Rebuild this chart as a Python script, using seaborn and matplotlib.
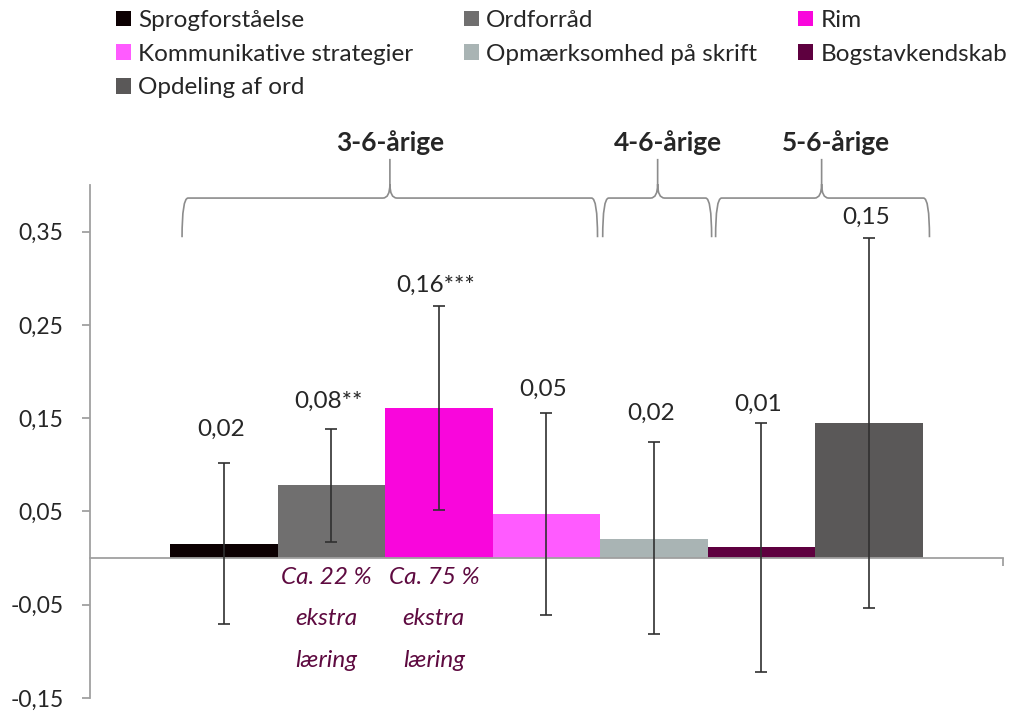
import matplotlib
matplotlib.use("Agg")
import matplotlib.pyplot as plt
import seaborn as sns
import pandas as pd
import numpy as np
from matplotlib.patches import Patch, PathPatch
from matplotlib.path import Path
from matplotlib.ticker import FuncFormatter

# ---------------- data ----------------
categories = ["Sprogforståelse", "Ordforråd", "Rim", "Kommunikative strategier",
              "Opmærksomhed på skrift", "Bogstavkendskab", "Opdeling af ord"]
values = [0.015, 0.078, 0.161, 0.047, 0.021, 0.012, 0.145]
ci_low = [-0.071, 0.017, 0.052, -0.061, -0.081, -0.122, -0.054]
ci_high = [0.102, 0.138, 0.270, 0.156, 0.124, 0.145, 0.343]
value_labels = ["0,02", "0,08**", "0,16***", "0,05", "0,02", "0,01", "0,15"]
group_names = ["3-6-årige", "4-6-årige", "5-6-årige"]
notes = {"Ordforråd": "Ca. 22 %\nekstra\nlæring", "Rim": "Ca. 75 %\nekstra\nlæring"}
yticks = [-0.15, -0.05, 0.05, 0.15, 0.25, 0.35]

# ---------------- style ----------------
colors = ["#0C0002", "#706F6F", "#F906DC", "#FF5BFF", "#A9B4B4", "#5E003F", "#5A5858"]
TEXT = "#262626"
AXIS = "#A0A0A0"
FS = 17.5
sns.set_theme(style="white")
plt.rcParams["font.family"] = ["Lato", "DejaVu Sans"]

fig = plt.figure(figsize=(10.24, 7.11), dpi=100)
ax = fig.add_axes([90 / 1024, 13 / 711, 912.7 / 1024, 513 / 711])

df = pd.DataFrame({"cat": categories, "val": values})
sns.barplot(data=df, x="cat", y="val", hue="cat", order=categories, hue_order=categories,
            palette=colors, width=1.0, errorbar=None, legend=False, ax=ax,
            saturation=1, linewidth=0)

xpos = np.arange(len(categories))
vals = np.array(values)
yerr = np.vstack([vals - np.array(ci_low), np.array(ci_high) - vals])
ax.errorbar(xpos, vals, yerr=yerr, fmt="none", ecolor="#303030", elinewidth=1.2,
            capsize=4.3, capthick=1.2, zorder=5)

ax.set_xlim(-1.244, 7.244)
ax.set_ylim(-0.15, 0.40)
ax.set_xlabel("")
ax.set_ylabel("")

# axes
for s in ["top", "right"]:
    ax.spines[s].set_visible(False)
ax.spines["left"].set_color(AXIS)
ax.spines["left"].set_linewidth(1.3)
ax.spines["left"].set_bounds(-0.15, 0.40)
ax.spines["bottom"].set_position(("data", 0))
ax.spines["bottom"].set_color(AXIS)
ax.spines["bottom"].set_linewidth(1.3)
ax.set_xticks([7.244])
ax.set_xticklabels([""])
ax.tick_params(axis="x", direction="out", length=6, width=1.3, color=AXIS, bottom=True)
ax.set_yticks(yticks)
ax.yaxis.set_major_formatter(FuncFormatter(lambda v, p: f"{v:.2f}".replace(".", ",")))
ax.tick_params(axis="y", direction="out", length=6, width=1.3, color=AXIS, left=True,
               labelsize=16.5, labelcolor=TEXT, pad=13)
ax.grid(False)

# value labels above error bars
label_pad_px = [34, 28, 21, 23, 29, 19, 21]
for x, top, lab, pad in zip(xpos, ci_high, value_labels, label_pad_px):
    ax.annotate(lab, (x, top), xytext=(-3, pad), textcoords="offset pixels",
                ha="center", va="center", fontsize=FS, color=TEXT, zorder=6)

# notes under bars
for cat, txt in notes.items():
    i = categories.index(cat)
    ax.annotate(txt, (i, 0), xytext=(-5, -9), textcoords="offset pixels",
                ha="center", va="top", fontsize=FS, style="italic",
                color="#5E0A40", linespacing=2.2)

# braces for age groups (x in data coordinates)
brace_spans = [(-0.388, 3.476, 1.545), (3.524, 4.537, 4.035), (4.574, 6.563, 5.56)]
text_x = [1.545, 4.13, 5.69]
px = 1 / 933.0
ybot, ymid, ytop = 0.344, 0.386, 0.428
def brace(x0, x1, xm):
    dxe = 6 / 107.6
    dxm = 7 / 107.6
    verts = [(x0, ybot), (x0, ymid), (x0 + dxe, ymid),
             (xm - dxm, ymid),
             (xm, ymid), (xm, ymid + 14 * px),
             (xm, ytop),
             (xm, ymid + 14 * px),
             (xm, ymid), (xm + dxm, ymid),
             (x1 - dxe, ymid),
             (x1, ymid), (x1, ybot)]
    codes = [Path.MOVETO, Path.CURVE3, Path.CURVE3,
             Path.LINETO,
             Path.CURVE3, Path.CURVE3,
             Path.LINETO,
             Path.MOVETO,
             Path.CURVE3, Path.CURVE3,
             Path.LINETO,
             Path.CURVE3, Path.CURVE3]
    return PathPatch(Path(verts, codes), fill=False, edgecolor="#8C8C8C", lw=1.2,
                     clip_on=False)

for (x0, x1, xm), name, tx in zip(brace_spans, group_names, text_x):
    ax.add_patch(brace(x0, x1, xm))
    ax.text(tx, 0.446, name, ha="center", va="center", fontsize=19,
            fontweight="bold", color=TEXT, clip_on=False)

# legend: three columns
handles = [Patch(facecolor=c, edgecolor="none") for c in colors]
cols = [[0, 3, 6], [1, 4], [2, 5]]
col_x = [116 / 1024, 464 / 1024, 798 / 1024]
for idx, cx in zip(cols, col_x):
    fig.legend([handles[i] for i in idx], [categories[i] for i in idx],
               loc="upper left", bbox_to_anchor=(cx, 1 - 10 / 711), frameon=False,
               fontsize=FS, handlelength=0.62, handleheight=0.62, handletextpad=0.3,
               labelspacing=0.52, borderpad=0, borderaxespad=0, labelcolor=TEXT)

fig.savefig("out.png", dpi=100)
